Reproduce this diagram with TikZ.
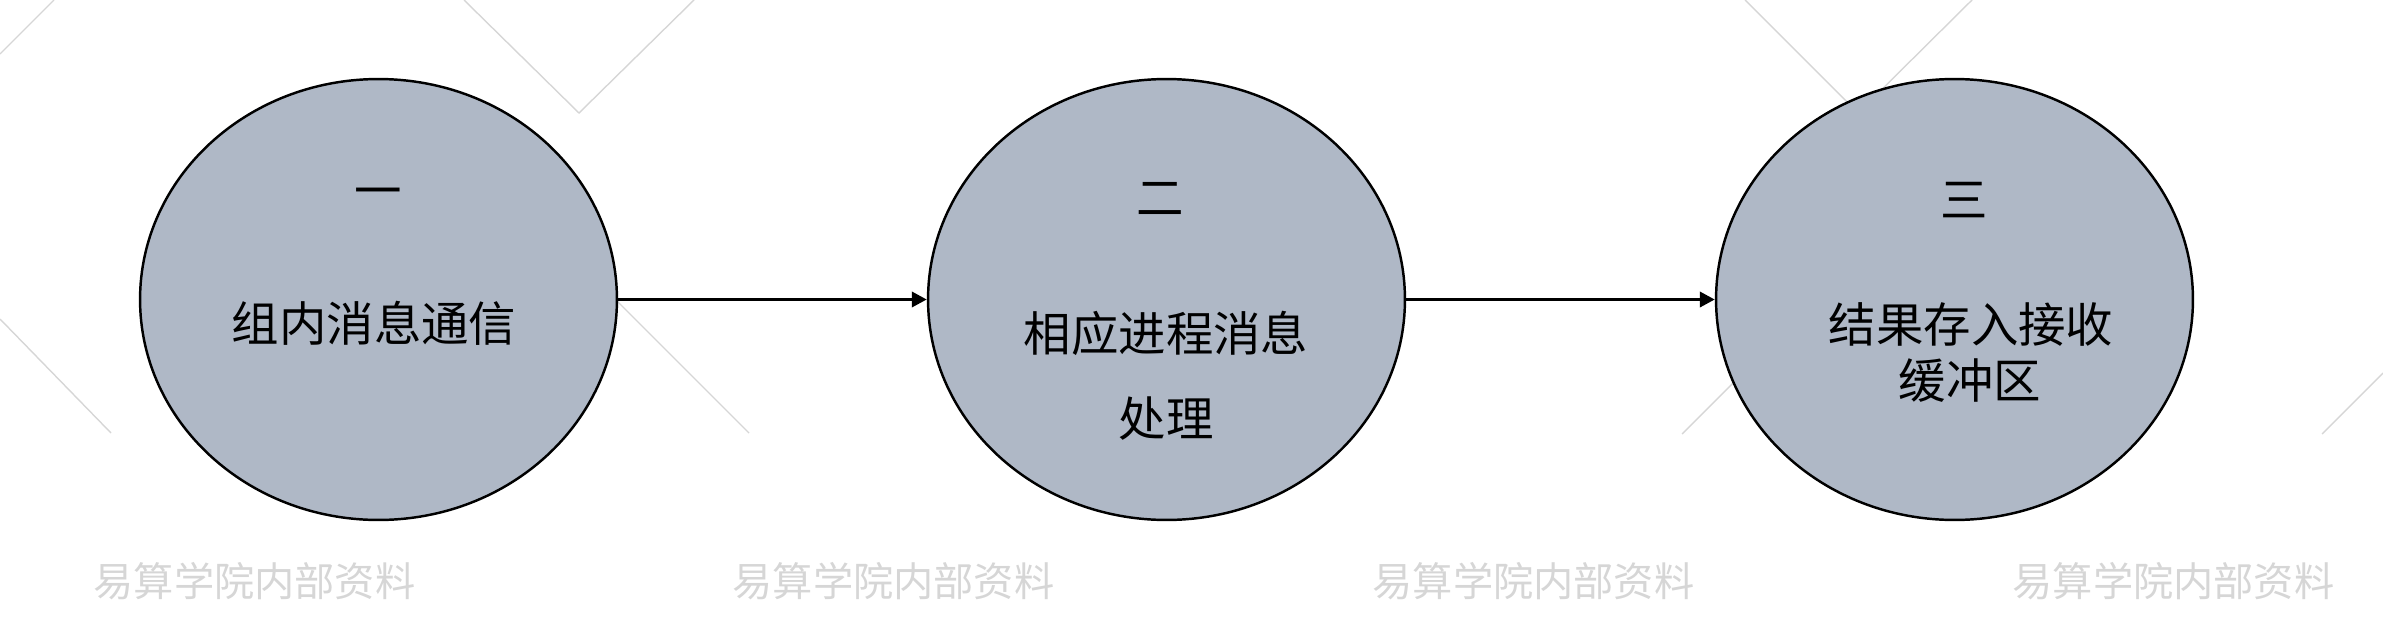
\documentclass[tikz,border=0pt]{standalone}
\usepackage{fontspec}
\newfontfamily\cjk{Noto Sans CJK SC}
\usepackage{tikz}
\usetikzlibrary{shapes.geometric, arrows.meta}
\definecolor{stagefill}{HTML}{AFB8C6}
\definecolor{wmgray}{HTML}{D6D6D6}

\begin{document}
\begin{tikzpicture}[x=0.02cm, y=-0.02cm,
    stage/.style={ellipse, draw=black, line width=1.4pt, fill=stagefill,
        minimum width=9.54cm, minimum height=8.82cm, inner sep=0pt},
    txt/.style={font=\cjk\fontsize{27}{32}\selectfont, inner sep=0pt},
    wm/.style={font=\cjk\fontsize{22.9}{27}\selectfont, text=wmgray, inner sep=0pt},
    bgline/.style={draw=wmgray, line width=0.8pt},
    flow/.style={-{Triangle[length=0.3cm, width=0.3cm]}, line width=2pt}]
        \useasboundingbox (0,0) rectangle (2383,622);
        % Background lines
        \draw[bgline] (0,54) -- (54,0);
        \draw[bgline] (464,0) -- (579,113) -- (694,0);
        \draw[bgline] (0,319) -- (111,433);
        \draw[bgline] (566,250) -- (749,433);
        \draw[bgline] (1745,0) -- (1858,113) -- (1972,0);
        \draw[bgline] (1682,434) -- (1800,316);
        \draw[bgline] (2322,434) -- (2383,373);
        % Stages
        \node[stage] (e1) at (378.5,299.5) {};
        \node[stage] (e2) at (1166.5,299.5) {};
        \node[stage] (e3) at (1954.5,299.5) {};
        % Labels inside stages
        \node[txt] (n1) at (378,198) {一};
        \node[txt] (l1) at (374,323) {组内消息通信};
        \node[txt] (n2) at (1160,199) {二};
        \node[txt] (l2a) at (1166,333) {相应进程消息};
        \node[txt] (l2b) at (1166,419) {处理};
        \node[txt] (n3) at (1964,200) {三};
        \node[txt] (l3a) at (1971,324) {结果存入接收};
        \node[txt] (l3b) at (1970,381) {缓冲区};
        % Arrows
        \draw[flow] (e1.east) -- (e2.west);
        \draw[flow] (e2.east) -- (e3.west);
        % Watermark
        \node[wm] (w1) at (254.5,581) {易算学院内部资料};
        \node[wm] (w2) at (893.5,581) {易算学院内部资料};
        \node[wm] (w3) at (1533.5,581) {易算学院内部资料};
        \node[wm] (w4) at (2173.5,581) {易算学院内部资料};

    \end{tikzpicture}
\end{document}
